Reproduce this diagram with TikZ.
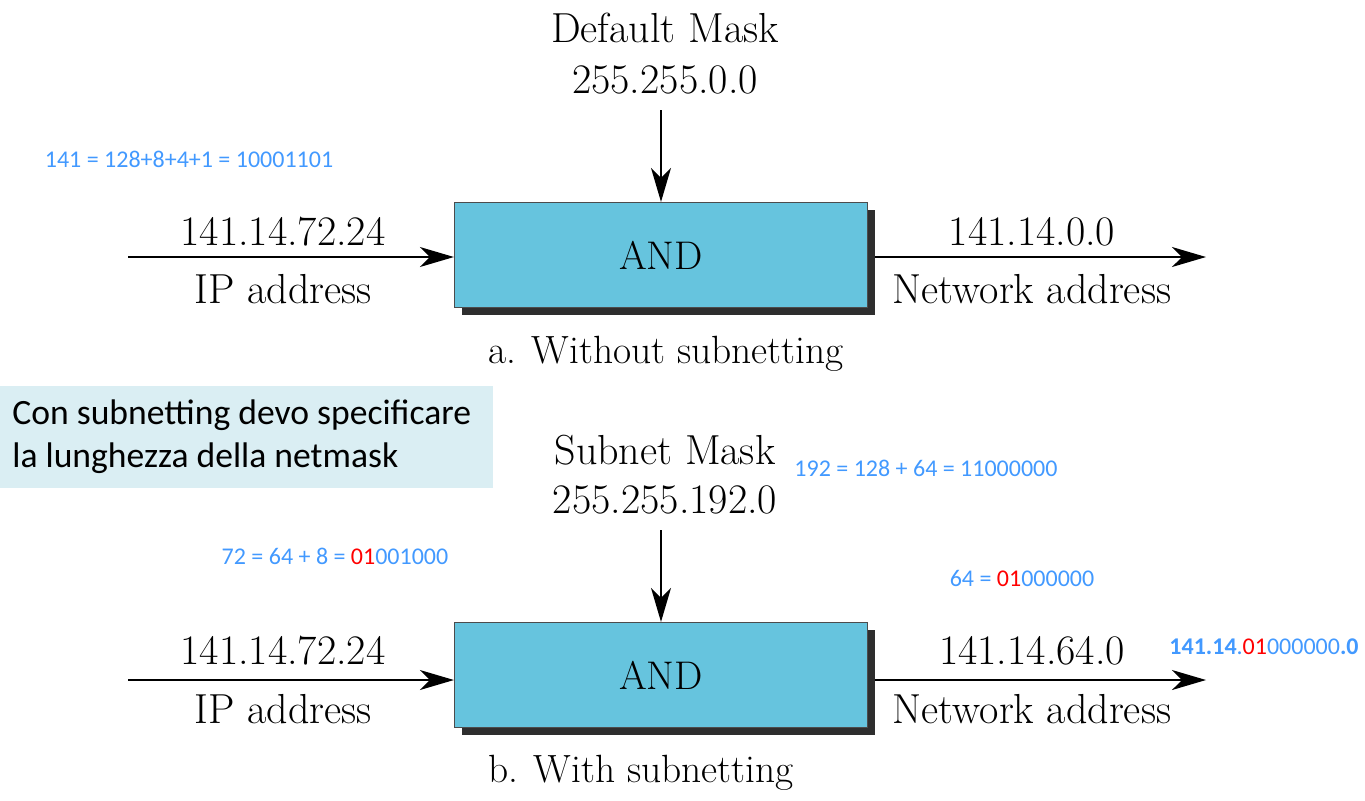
\documentclass[tikz,border=0pt]{standalone}
\usepackage{fontspec}
\newfontfamily\notefont{Carlito}
\usetikzlibrary{arrows.meta,shadows}
\definecolor{andblue}{RGB}{102,196,222}
\definecolor{noteblue}{RGB}{66,153,255}
\definecolor{notered}{RGB}{255,0,0}
\definecolor{hintbg}{RGB}{218,238,243}
\tikzset{
  andbox/.style={draw=black!70, line width=0.6pt, fill=andblue,
    minimum width=206.5pt, minimum height=52.5pt,
    drop shadow={shadow xshift=3.5pt, shadow yshift=-3.5pt, fill=black!82, opacity=1},
    font=\fontsize{20}{24}\selectfont},
  label/.style={font=\fontsize{21}{24}\selectfont, inner sep=0pt},
  caption/.style={font=\fontsize{19.7}{22}\selectfont, inner sep=0pt},
  note/.style={font=\notefont\fontsize{12}{14}\selectfont, text=noteblue, inner sep=0pt},
  flow/.style={line width=0.8pt, -{Stealth[length=17pt, width=10pt, inset=5pt]}}
}
\begin{document}
\begin{tikzpicture}[x=0.5pt,y=-0.5pt]
  \useasboundingbox (0,0) rectangle (1365,800);

  % a. without subnetting
  \node[andbox] (andA) at (661,255) {AND};
  \coordinate (inA)   at (128,257);
  \coordinate (outA)  at (1206,257);
  \coordinate (maskA) at (661,110);

  \begin{scope}[every node/.style={label}]
    \node (dmask)  at (665,28)  {Default Mask};
    \node (dval)   at (665,80)  {255.255.0.0};
    \node (ipA)    at (283,232) {141.14.72.24};
    \node (iplA)   at (283,289) {IP address};
    \node (netA)   at (1032,232) {141.14.0.0};
    \node (netlA)  at (1032,289) {Network address};
  \end{scope}
  \node[caption] (capA) at (666,354) {a. Without subnetting};

  \draw[flow] (inA) -- (andA.west |- inA);
  \draw[flow] (maskA) -- (andA.north);
  \draw[flow] ([xshift=3.5pt]andA.east |- outA) -- (outA);

  % b. with subnetting
  \node[andbox] (andB) at (661,675) {AND};
  \coordinate (inB)   at (128,680);
  \coordinate (outB)  at (1206,680);
  \coordinate (maskB) at (661,530);

  \begin{scope}[every node/.style={label}]
    \node (smask)  at (665,450) {Subnet Mask};
    \node (sval)   at (665,500) {255.255.192.0};
    \node (ipB)    at (283,651) {141.14.72.24};
    \node (iplB)   at (283,709) {IP address};
    \node (netB)   at (1032,651) {141.14.64.0};
    \node (netlB)  at (1032,709) {Network address};
  \end{scope}
  \node[caption] (capB) at (641,773) {b. With subnetting};

  \draw[flow] (inB) -- (andB.west |- inB);
  \draw[flow] (maskB) -- (andB.north);
  \draw[flow] ([xshift=3.5pt]andB.east |- outB) -- (outB);

  % annotations
  \fill[hintbg] (0,386) rectangle (493,488);
  \node[anchor=west, align=left, inner sep=0pt,
        font=\notefont\fontsize{17.8}{21.5}\selectfont]
    (hint) at (12,437) {Con subnetting devo specificare\\la lunghezza della netmask};

  \begin{scope}[every node/.style={note}]
    \node (n141) at (189,159)  {141 = 128+8+4+1 = 10001101};
    \node (n192) at (926,468)  {192 = 128 + 64 = 11000000};
    \node (n72)  at (335,556)  {72 = 64 + 8 = \textcolor{notered}{01}001000};
    \node (n64)  at (1022,578) {64 = \textcolor{notered}{01}000000};
    \node (nres) at (1264,647) {\textbf{141.14}.\textcolor{notered}{01}000000\textbf{.0}};
  \end{scope}
\end{tikzpicture}
\end{document}
